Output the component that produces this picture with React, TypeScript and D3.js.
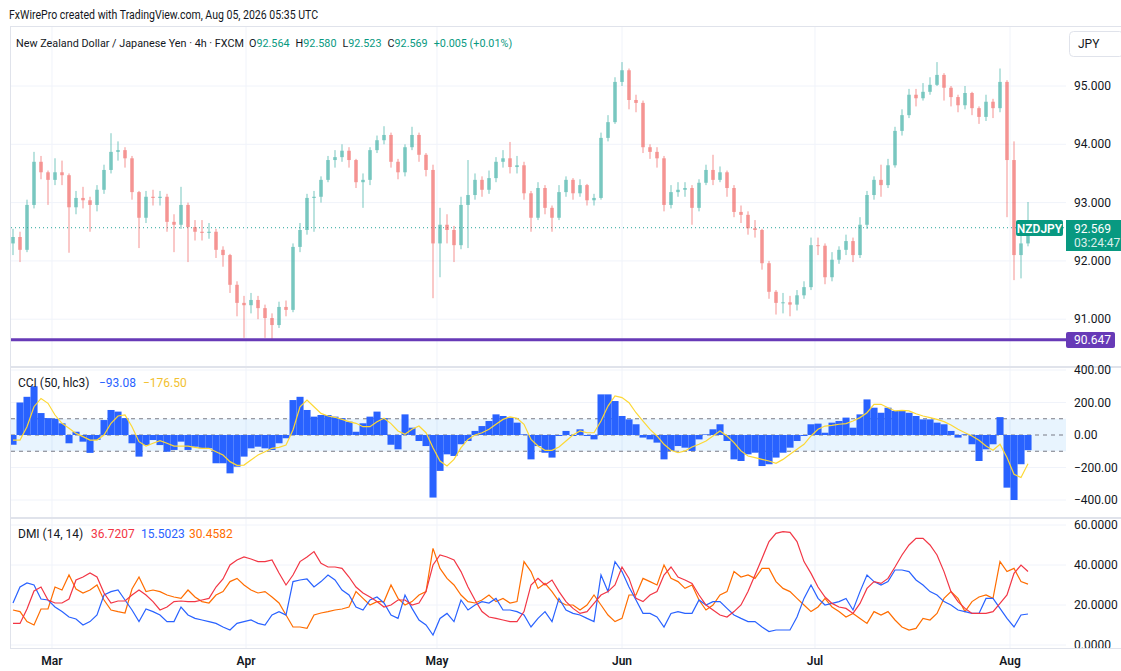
import * as d3 from "d3";
import { FC } from "react";

// NZDJPY, one bar per ~day
const FIRST_OPEN = 92.3;
const CLOSE: number[] = [
  92.41, 92.19, 92.96, 93.7, 93.52, 93.39, 93.52, 93.47, 92.92, 93.08,
  93.04, 92.96, 93.22, 93.56, 93.87, 93.9, 93.76, 93.18, 92.74, 93.1,
  93.08, 93.1, 92.67, 92.62, 92.96, 92.58, 92.5, 92.48, 92.5, 92.19,
  92.1, 91.59, 91.28, 91.24, 91.33, 91.19, 91.02, 90.9, 91.21, 91.16,
  92.24, 92.53, 93.08, 93.1, 93.39, 93.73, 93.78, 93.89, 93.73, 93.35,
  93.39, 93.9, 94.07, 94.16, 93.7, 93.52, 93.95, 94.16, 93.82, 93.56,
  92.3, 92.62, 92.53, 92.27, 92.96, 93.13, 93.39, 93.22, 93.42, 93.7,
  93.76, 93.61, 93.64, 93.16, 92.74, 93.25, 92.91, 92.74, 93.18, 93.39,
  93.16, 93.3, 93.04, 93.08, 94.11, 94.38, 95.07, 95.27, 94.76, 94.71,
  93.95, 93.87, 93.76, 92.96, 93.18, 93.22, 93.25, 92.91, 93.34, 93.56,
  93.39, 93.52, 93.25, 92.84, 92.79, 92.56, 92.53, 91.96, 91.47, 91.28,
  91.29, 91.25, 91.41, 91.55, 92.27, 92.26, 91.72, 92.02, 92.19, 92.34,
  92.1, 92.62, 93.13, 93.39, 93.3, 93.64, 94.23, 94.5, 94.85, 94.79,
  94.9, 95.02, 95.19, 94.97, 94.81, 94.67, 94.88, 94.62, 94.47, 94.73,
  94.62, 95.07, 93.73, 92.1, 92.3, 92.569,
];
const HIGH: number[] = [
  92.55, 92.5, 93.05, 93.87, 93.8, 93.55, 93.76, 93.72, 93.5, 93.2,
  93.27, 93.1, 93.3, 93.65, 94.19, 94.05, 93.95, 93.8, 93.2, 93.2,
  93.22, 93.2, 93.15, 92.8, 93.27, 93.0, 92.7, 92.7, 92.65, 92.55,
  92.25, 92.12, 91.65, 91.4, 91.45, 91.4, 91.25, 91.1, 91.3, 91.32,
  92.3, 92.65, 93.15, 93.2, 93.45, 93.8, 93.9, 94.0, 93.95, 93.75,
  93.5, 93.95, 94.15, 94.31, 94.2, 93.75, 94.0, 94.3, 94.2, 93.85,
  93.65, 92.91, 92.8, 92.6, 93.1, 93.73, 93.5, 93.45, 93.55, 93.78,
  93.9, 94.04, 93.8, 93.7, 93.2, 93.35, 93.3, 92.95, 93.3, 93.45,
  93.42, 93.4, 93.32, 93.15, 94.2, 94.5, 95.15, 95.41, 95.3, 94.85,
  94.75, 94.0, 93.95, 93.8, 93.3, 93.35, 93.35, 93.3, 93.4, 93.65,
  93.82, 93.62, 93.55, 93.3, 92.95, 92.85, 92.7, 92.55, 92.0, 91.5,
  91.45, 91.4, 91.5, 91.65, 92.4, 92.4, 92.3, 92.15, 92.25, 92.45,
  92.4, 92.75, 93.2, 93.45, 93.65, 93.75, 94.3, 94.6, 94.95, 94.95,
  95.05, 95.15, 95.41, 95.22, 95.0, 94.85, 95.0, 94.9, 94.65, 94.85,
  94.78, 95.3, 95.1, 94.05, 92.5, 93.01,
];
const LOW: number[] = [
  92.1, 91.98, 92.15, 92.9, 93.4, 92.96, 93.3, 93.3, 92.14, 92.8,
  92.9, 92.5, 92.85, 93.15, 93.5, 93.72, 93.6, 93.05, 92.22, 92.65,
  92.95, 92.95, 92.5, 92.15, 92.55, 91.98, 92.35, 92.35, 92.38, 92.05,
  91.9, 91.45, 91.05, 90.68, 91.1, 91.0, 90.68, 90.66, 90.85, 91.05,
  91.12, 92.15, 92.45, 92.5, 93.0, 93.35, 93.6, 93.7, 93.6, 93.25,
  92.91, 93.3, 93.85, 94.0, 93.6, 93.4, 93.45, 93.9, 93.7, 93.45,
  91.36, 91.72, 92.3, 91.98, 92.2, 92.22, 93.05, 93.1, 93.15, 93.35,
  93.6, 93.5, 93.5, 93.05, 92.5, 92.7, 92.8, 92.5, 92.7, 93.1,
  93.05, 93.1, 92.95, 92.95, 93.05, 94.05, 94.35, 95.0, 94.6, 94.55,
  93.85, 93.75, 93.6, 92.85, 92.9, 93.1, 93.1, 92.62, 92.85, 93.3,
  93.3, 93.35, 93.1, 92.75, 92.65, 92.45, 92.4, 91.85, 91.35, 91.08,
  91.1, 91.05, 91.15, 91.35, 91.5, 92.1, 91.6, 91.65, 91.95, 92.1,
  91.98, 92.05, 92.55, 93.05, 93.1, 93.25, 93.6, 94.15, 94.45, 94.65,
  94.75, 94.85, 95.0, 94.75, 94.65, 94.55, 94.6, 94.5, 94.35, 94.4,
  94.45, 94.55, 92.75, 91.67, 91.7, 92.25,
];

const CCI: number[] = [
  -60, 200, 235, 300, 135, 104, 100, 72, -51, 20,
  -41, -110, -30, 92, 154, 144, 104, -51, -133, -62,
  -31, -62, -103, -92, -41, -92, -72, -82, -82, -174,
  -174, -236, -195, -133, -82, -72, -82, -92, -51, -20,
  215, 235, 154, 113, 123, 123, 113, 104, 82, 20,
  72, 113, 144, 104, -60, -88, 127, 45, -37, -68,
  -385, -221, -119, -129, -57, -37, 25, 55, 86, 127,
  117, 107, 76, 4, -150, -68, -109, -139, -6, 25,
  -6, 35, -6, -27, 250, 250, 209, 117, 96, 66,
  -16, -27, -47, -150, -98, -68, -78, -98, -27, 4,
  35, 66, -37, -150, -160, -119, -109, -191, -180, -139,
  -109, -78, -37, -6, 66, 70, 14, 76, 86, 107,
  45, 127, 219, 168, 137, 168, 148, 148, 137, 117,
  96, 96, 76, 66, 25, -16, 4, -57, -160, -88,
  -57, 110, -324, -400, -180, -93.08,
];
const CCI_MA: number[] = [
  -31, -31, 51, 174, 225, 195, 123, 72, 41, 10,
  -10, -31, -31, 0, 72, 117, 123, 51, -41, -68,
  -51, -35, -51, -68, -68, -68, -76, -82, -82, -103,
  -123, -164, -187, -185, -154, -123, -103, -82, -76, -62,
  31, 174, 215, 174, 133, 117, 109, 96, 82, 72,
  51, 51, 82, 103, 70, 25, 4, 35, 55, 14,
  -78, -160, -191, -150, -78, -27, 0, 14, 35, 66,
  96, 111, 103, 66, -27, -68, -94, -94, -74, -37,
  0, 25, 14, 14, 86, 178, 240, 230, 199, 137,
  86, 35, -6, -57, -94, -109, -98, -74, -57, -37,
  -6, 25, -6, -47, -98, -129, -139, -150, -160, -174,
  -150, -119, -88, -57, -6, 35, 55, 59, 66, 70,
  86, 107, 137, 189, 189, 168, 148, 152, 148, 131,
  117, 107, 96, 82, 62, 35, 14, -6, -33, -68,
  -94, -57, -139, -242, -262, -176.5,
];

const ADX: number[] = [
  10.8, 10.8, 18, 27, 29, 22.5, 21, 21, 23, 32.5,
  34, 36, 34, 26, 21, 22, 22, 25, 27.5, 25,
  21.7, 17.5, 19, 21.7, 22, 21.7, 21.7, 22.5, 23.3, 29,
  33, 40, 42.5, 44, 43, 41.7, 41.7, 42.5, 36, 30,
  35, 41.7, 44, 46.7, 40.8, 39, 39, 38.3, 34, 29,
  26, 24, 21.7, 19, 20, 22.5, 22.5, 20, 21, 26.7,
  40, 45, 44, 42.5, 36.7, 29, 22.5, 16.7, 14, 13.3,
  12.5, 11.7, 11.7, 16.7, 30, 33.3, 30, 32.5, 26.7, 21.7,
  18.3, 15.8, 16.7, 20.8, 25, 26.7, 30, 39, 33.3, 23.3,
  21.7, 25, 26.7, 35, 39, 34, 32.5, 30.8, 25, 20,
  17.5, 15, 14, 16.7, 20, 26.7, 35, 43.3, 51.7, 55.8,
  56.7, 56.3, 51.7, 41.7, 35.8, 29, 24, 20.8, 19, 18.3,
  15.8, 20.8, 28.3, 31.7, 30.8, 33.3, 39, 45, 50, 53.3,
  53.3, 50, 45, 36.7, 26.7, 21.7, 18.3, 15.8, 15.8, 15.8,
  16.7, 20.8, 25, 35.8, 40, 36.7207,
];
const PLUS_DI: number[] = [
  21, 29, 31, 30, 23, 22.5, 19, 16.7, 14, 13,
  10, 11.7, 15, 25, 26.7, 27.5, 22.5, 17.5, 11.7, 18,
  16.7, 15, 11.7, 11.7, 19, 15, 13.3, 12.5, 11.7, 10.8,
  9, 7.5, 10.8, 11.7, 12.5, 10.8, 10, 15, 16.7, 15,
  31.7, 32.5, 33, 29, 31.7, 35, 32.5, 27.5, 25, 19,
  17.5, 22.5, 24, 21, 15, 13.3, 25, 18.3, 12.5, 10,
  5, 13.3, 15.8, 11.7, 22.5, 17.5, 20, 21.7, 21, 23.3,
  17.5, 17.5, 16.7, 15, 9, 13.3, 16.7, 11.7, 23.3, 17.5,
  15.8, 15, 13.3, 11.7, 35, 26.7, 41.7, 36.7, 29, 22.5,
  15.8, 15.8, 14, 9, 15.8, 16.7, 15.8, 15.8, 22.5, 20,
  21.7, 21.7, 18.3, 15, 13.3, 11.7, 11.7, 9, 6.7, 7.5,
  7.5, 7.5, 14, 23.3, 30, 23.3, 20, 20.8, 21.7, 23.3,
  17.5, 26.7, 35, 31.7, 30, 31.7, 37.5, 37.5, 36.7, 32.5,
  30, 26.7, 25, 21.7, 20, 17.5, 16.7, 15.8, 15.8, 23.3,
  23.3, 18.3, 13.3, 9, 15, 15.5023,
];
const MINUS_DI: number[] = [
  17.5, 16.7, 11.7, 10, 18, 18, 29, 27.5, 35, 28,
  26, 27.5, 30, 22.5, 17.5, 16.7, 16, 28, 34, 26.7,
  27.5, 26.7, 25, 24, 23.3, 27.5, 24, 21.7, 21, 25,
  26.7, 31.7, 33.3, 30, 27.5, 26, 26.7, 24, 21, 15,
  9, 9, 8.3, 15, 16, 16.7, 17.5, 18, 19, 26.7,
  23.3, 20, 21.7, 21.7, 30, 23.3, 20, 21.7, 25, 26.7,
  48.3, 38.3, 33.3, 30, 25, 21.7, 21, 22.5, 25, 21.7,
  23.3, 21, 21.7, 41.7, 36.7, 28.3, 30.8, 26.7, 21.7, 20,
  20, 17.5, 20, 25, 20, 15, 11.7, 13.3, 25, 25,
  33.3, 31.7, 30, 40, 33.3, 31.7, 28.3, 30, 22.5, 17.5,
  20, 25, 26.7, 36.7, 34, 35, 33.3, 38.3, 38.3, 31.7,
  28.3, 26.7, 23.3, 20, 16.7, 19, 23.3, 19, 16.7, 14,
  15.8, 13.3, 10.8, 16.7, 15, 16.7, 12.5, 9, 7.5, 8.3,
  13.3, 12.5, 15.8, 23.3, 26.7, 23.3, 16.7, 21.7, 24, 25,
  23.3, 41.7, 36.7, 38.3, 31.7, 30.4582,
];

const MONTHS = ["Mar", "Apr", "May", "Jun", "Jul", "Aug"];
const MONTH_BARS = [5.57, 33.29, 60.57, 87, 114.57, 142.43];
const PRICE_TICKS = [91, 92, 93, 94, 95];
const CCI_TICKS = [400, 200, 0, -200, -400];
const DMI_TICKS = [60, 40, 20, 0];
const LAST_PRICE = 92.569;
const SUPPORT = 90.647;
const OHLC_LABELS = ["O", "H", "L", "C"];
const OHLC_VALUES = ["92.564", "92.580", "92.523", "92.569"];
const CHANGE_TEXT = "+0.005 (+0.01%)";

const W = 1121;
const H = 671;
const LEFT = 11;
const RIGHT = 1066;
const FONT = "Roboto, 'Noto Sans', sans-serif";
const INK = "#131722";
const UP = "#26a69a";
const DOWN = "#ef5350";
const TEAL = "#089981";
const PURPLE = "#673ab7";
const GRID = "#f0f3fa";
const SEP = "#e0e3eb";

const fmtMinus = (s: string) => s.replace("-", "\u2212");

const App: FC = () => {
  const n = CLOSE.length;
  const x = d3.scaleLinear().domain([0, n - 1]).range([13, 1028]);
  const yP = d3.scaleLinear().domain([91, 95]).range([319.2, 86]);
  const yC = d3.scaleLinear().domain([-400, 400]).range([500, 370]);
  const yD = d3.scaleLinear().domain([0, 60]).range([645, 525]);

  const opens = [FIRST_OPEN, ...CLOSE.slice(0, -1)];

  const cciLine = d3
    .line<number>()
    .x((_, i) => x(i))
    .y((d) => yC(d));
  const dmiLine = d3
    .line<number>()
    .x((_, i) => x(i))
    .y((d) => yD(d));

  const axisX = 1074;

  return (
    <svg
      width={W}
      height={H}
      style={{ position: "absolute", left: 0, top: 0, background: "#fff" }}
      fontFamily={FONT}
    >
      <defs>
        <clipPath id="mainClip">
          <rect x={LEFT} y={27} width={RIGHT - LEFT} height={339} />
        </clipPath>
        <clipPath id="cciClip">
          <rect x={LEFT} y={368} width={RIGHT - LEFT} height={149} />
        </clipPath>
        <clipPath id="dmiClip">
          <rect x={LEFT} y={519} width={RIGHT - LEFT} height={129} />
        </clipPath>
        <clipPath id="dmiAxisClip">
          <rect x={RIGHT} y={519} width={W - RIGHT} height={129} />
        </clipPath>
      </defs>
      <rect width={W} height={H} fill="#fff" />

      {/* header */}
      <text
        x={9}
        y={19}
        fontSize={12.5}
        fill={INK}
        textLength={309}
        lengthAdjust="spacingAndGlyphs"
      >
        FxWirePro created with TradingView.com, Aug 05, 2026 05:35 UTC
      </text>
      <line x1={LEFT} x2={W} y1={26.5} y2={26.5} stroke={SEP} />
      <line x1={LEFT - 0.5} x2={LEFT - 0.5} y1={26} y2={649} stroke={SEP} />

      {/* vertical month grid */}
      {MONTH_BARS.map((b, i) => (
        <line
          key={MONTHS[i]}
          x1={x(b)}
          x2={x(b)}
          y1={27}
          y2={648}
          stroke={GRID}
        />
      ))}

      {/* main pane */}
      {PRICE_TICKS.map((p) => (
        <g key={p}>
          <line x1={LEFT} x2={RIGHT} y1={yP(p)} y2={yP(p)} stroke={GRID} />
          <text x={axisX} y={yP(p)} fontSize={12} fill={INK} dominantBaseline="central">
            {p.toFixed(3)}
          </text>
        </g>
      ))}
      <g clipPath="url(#mainClip)">
        <line
          x1={LEFT}
          x2={RIGHT}
          y1={yP(LAST_PRICE)}
          y2={yP(LAST_PRICE)}
          stroke={UP}
          strokeDasharray="1 3"
        />
        {CLOSE.map((c, i) => {
          const o = opens[i];
          const col = c >= o ? UP : DOWN;
          const top = yP(Math.max(o, c));
          const bot = yP(Math.min(o, c));
          return (
            <g key={i} opacity={0.62}>
              <line
                x1={x(i)}
                x2={x(i)}
                y1={yP(HIGH[i])}
                y2={yP(LOW[i])}
                stroke={col}
                strokeWidth={1}
              />
              <rect
                x={x(i) - 1.75}
                y={top}
                width={3.5}
                height={Math.max(1, bot - top)}
                fill={col}
              />
            </g>
          );
        })}
        <line
          x1={LEFT}
          x2={RIGHT}
          y1={yP(SUPPORT)}
          y2={yP(SUPPORT)}
          stroke={PURPLE}
          strokeWidth={3}
        />
      </g>

      {/* main legend: one flowing text run */}
      <text x={16} y={47} fontSize={10.8} fill={INK}>
        <tspan>New Zealand Dollar / Japanese Yen · 4h · FXCM</tspan>
        {OHLC_LABELS.map((lab, i) => (
          <tspan key={lab} dx={i === 0 ? 5 : 6}>
            {lab}
            <tspan fill={TEAL}>{OHLC_VALUES[i]}</tspan>
          </tspan>
        ))}
        <tspan dx={6} fill={TEAL}>
          {CHANGE_TEXT}
        </tspan>
      </text>

      {/* JPY box */}
      <rect x={1069.5} y={31.5} width={54} height={25} rx={4} fill="#fff" stroke={SEP} />
      <text x={1078} y={44} fontSize={12} fill={INK} dominantBaseline="central">
        JPY
      </text>

      {/* last price labels */}
      <rect x={1016} y={220} width={47} height={16} rx={2} fill={TEAL} />
      <text
        x={1039.5}
        y={228.5}
        fontSize={12}
        fontWeight={600}
        fill="#fff"
        textAnchor="middle"
        dominantBaseline="central"
      >
        NZDJPY
      </text>
      <rect x={RIGHT} y={220} width={W - RIGHT} height={31} fill={TEAL} />
      <text x={axisX} y={228.5} fontSize={12} fill="#fff" dominantBaseline="central">
        {LAST_PRICE.toFixed(3)}
      </text>
      <text
        x={axisX}
        y={242.5}
        fontSize={12}
        fill="#fff"
        opacity={0.85}
        dominantBaseline="central"
      >
        03:24:47
      </text>
      <rect x={RIGHT} y={332} width={49} height={16} rx={2} fill={PURPLE} />
      <text x={axisX} y={340} fontSize={12} fill="#fff" dominantBaseline="central">
        {SUPPORT.toFixed(3)}
      </text>

      {/* pane separators */}
      <rect x={LEFT} y={366} width={W - LEFT} height={2} fill={SEP} />
      <rect x={LEFT} y={517} width={W - LEFT} height={2} fill={SEP} />
      <line x1={LEFT} x2={W} y1={648.5} y2={648.5} stroke={SEP} />

      {/* CCI pane */}
      {CCI_TICKS.map((v) => (
        <g key={v}>
          {v !== 0 && (
            <line x1={LEFT} x2={RIGHT} y1={yC(v)} y2={yC(v)} stroke={GRID} />
          )}
          <text x={axisX} y={yC(v)} fontSize={12} fill={INK} dominantBaseline="central">
            {fmtMinus(v.toFixed(2))}
          </text>
        </g>
      ))}
      <g clipPath="url(#cciClip)">
        <rect
          x={LEFT}
          y={yC(100)}
          width={RIGHT - LEFT}
          height={yC(-100) - yC(100)}
          fill="#2196f3"
          fillOpacity={0.1}
        />
        {[100, 0, -100].map((v) => (
          <line
            key={v}
            x1={LEFT}
            x2={RIGHT}
            y1={yC(v)}
            y2={yC(v)}
            stroke="#787b86"
            strokeDasharray="4 4"
          />
        ))}
        {CCI.map((v, i) => (
          <rect
            key={i}
            x={x(i) - 3.5}
            y={Math.min(yC(v), yC(0))}
            width={7.05}
            height={Math.abs(yC(v) - yC(0))}
            fill="#2962ff"
          />
        ))}
        <path d={cciLine(CCI_MA) ?? ""} fill="none" stroke="#fdd835" strokeWidth={1.2} />
      </g>
      <text y={387} fontSize={12} fill={INK}>
        <tspan x={18}>CCI (50, hlc3)</tspan>
        <tspan x={99} fill="#2962ff">
          {fmtMinus(CCI[n - 1].toFixed(2))}
        </tspan>
        <tspan x={143} fill="#f2c12e">
          {fmtMinus(CCI_MA[n - 1].toFixed(2))}
        </tspan>
      </text>

      {/* DMI pane */}
      {DMI_TICKS.map((v) => (
        <g key={v}>
          <line x1={LEFT} x2={RIGHT} y1={yD(v)} y2={yD(v)} stroke={GRID} />
          <text
            x={axisX}
            y={yD(v)}
            fontSize={12}
            fill={INK}
            dominantBaseline="central"
            clipPath="url(#dmiAxisClip)"
          >
            {v.toFixed(4)}
          </text>
        </g>
      ))}
      <g clipPath="url(#dmiClip)" fill="none" strokeWidth={1.2}>
        <path d={dmiLine(MINUS_DI) ?? ""} stroke="#ff6d00" />
        <path d={dmiLine(PLUS_DI) ?? ""} stroke="#2962ff" />
        <path d={dmiLine(ADX) ?? ""} stroke="#f23645" />
      </g>
      <text y={538} fontSize={12} fill={INK}>
        <tspan x={18}>DMI (14, 14)</tspan>
        <tspan x={91} fill="#f23645">
          {ADX[n - 1].toFixed(4)}
        </tspan>
        <tspan x={141} fill="#2962ff">
          {PLUS_DI[n - 1].toFixed(4)}
        </tspan>
        <tspan x={189} fill="#ff6d00">
          {MINUS_DI[n - 1].toFixed(4)}
        </tspan>
      </text>

      {/* time axis */}
      {MONTH_BARS.map((b, i) => (
        <text
          key={MONTHS[i]}
          x={x(b)}
          y={661}
          fontSize={12}
          fontWeight={600}
          fill={INK}
          textAnchor="middle"
          dominantBaseline="central"
        >
          {MONTHS[i]}
        </text>
      ))}
    </svg>
  );
};

export default App;
